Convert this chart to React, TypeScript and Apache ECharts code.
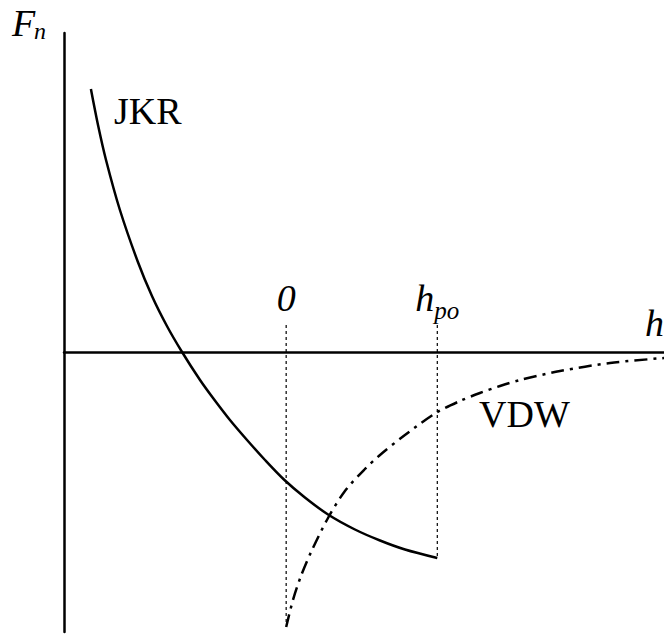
import React, { useEffect, useRef } from "react";
import * as echarts from "echarts";

// Normal force F_n versus separation h (arbitrary units; h_po = 1).
const jkrH = [-1.292, -1.245, -1.192, -1.1, -0.981, -0.888, -0.789, -0.689, -0.57, -0.484, -0.372, -0.259, -0.14, -0.015, 0.124, 0.277, 0.455, 0.621, 0.786, 1.0];
const jkrF = [2.63, 2.27, 1.92, 1.42, 0.9, 0.56, 0.26, 0.0, -0.28, -0.46, -0.68, -0.88, -1.08, -1.275, -1.455, -1.625, -1.775, -1.885, -1.975, -2.06];

const vdwH = [0.0, 0.045, 0.098, 0.171, 0.277, 0.389, 0.521, 0.621, 0.786, 0.99, 1.15, 1.282, 1.415, 1.547, 1.812, 2.143, 2.5];
const vdwF = [-2.75, -2.48, -2.24, -1.98, -1.66, -1.39, -1.17, -1.03, -0.83, -0.61, -0.49, -0.41, -0.34, -0.28, -0.19, -0.11, -0.06];

// Reference separations marked by dotted guides: contact (0) and pull-off (h_po).
const guideH = [0, 1];
const guideTop = [0.27, 0.27];
const guideBottom = [-2.72, -2.06];
const guideLabels = ["{n|0}", "{h|h}{s|po}"];

const serif = "Liberation Serif";

export default function App() {
  const ref = useRef<HTMLDivElement>(null);

  useEffect(() => {
    document.body.style.margin = "0";
    const chart = echarts.init(ref.current!, null, { renderer: "svg" });

    const txt = (size: number, italic: boolean) => ({
      fontFamily: serif,
      fontSize: size,
      fontStyle: italic ? "italic" : "normal",
      color: "#000",
    });

    const guideSeries = guideH.map((h, i) => ({
      type: "line",
      data: [
        {
          value: [h, guideTop[i]],
          label: {
            show: true,
            position: "top",
            distance: 2,
            formatter: guideLabels[i],
            rich: {
              n: { ...txt(38, true), lineHeight: 44, verticalAlign: "top" },
              h: { ...txt(38, true), lineHeight: 44, verticalAlign: "top" },
              s: { ...txt(25, true), lineHeight: 44, verticalAlign: "bottom" },
            },
          },
        },
        { value: [h, guideBottom[i]], label: { show: false } },
      ],
      showSymbol: true,
      symbol: "circle",
      symbolSize: 0,
      silent: true,
      z: 1,
      lineStyle: { color: "#000", width: 1.2, type: [3, 3] },
    }));

    const gtext = (text: string, x: number, y: number, size: number, italic: boolean) => ({
      type: "text",
      x,
      y,
      style: {
        text,
        fontFamily: serif,
        fontSize: size,
        fontStyle: italic ? "italic" : "normal",
        fill: "#000",
        verticalAlign: "top",
      },
    });

    chart.setOption({
      animation: false,
      textStyle: { fontFamily: serif },
      grid: { left: 64, right: 0, top: 33, bottom: 3 },
      xAxis: {
        type: "value",
        min: -1.47,
        max: 2.5,
        axisLine: { onZero: true, lineStyle: { color: "#000", width: 2.5 } },
        axisTick: { show: false },
        axisLabel: { show: false },
        splitLine: { show: false },
      },
      yAxis: {
        type: "value",
        min: -2.8,
        max: 3.19,
        axisLine: { show: true, onZero: false, lineStyle: { color: "#000", width: 2.5 } },
        axisTick: { show: false },
        axisLabel: { show: false },
        splitLine: { show: false },
      },
      series: [
        ...guideSeries,
        {
          name: "JKR",
          type: "line",
          data: jkrH.map((h, i) => [h, jkrF[i]]),
          smooth: 0.3,
          showSymbol: false,
          symbol: "none",
          z: 3,
          lineStyle: { color: "#000", width: 2.5 },
        },
        {
          name: "VDW",
          type: "line",
          data: vdwH.map((h, i) => [h, vdwF[i]]),
          smooth: 0.3,
          showSymbol: false,
          symbol: "none",
          z: 3,
          lineStyle: { color: "#000", width: 2.5, type: [13, 6, 3, 6] },
        },
      ],
      graphic: [
        gtext("F", 12, 4, 38, true),
        gtext("n", 34, 19, 24, true),
        gtext("h", 645, 304, 38, true),
        gtext("JKR", 114, 92, 38, false),
        gtext("VDW", 479, 395, 38, false),
      ],
    });

    return () => chart.dispose();
  }, []);

  return <div ref={ref} style={{ width: 664, height: 635 }} />;
}
